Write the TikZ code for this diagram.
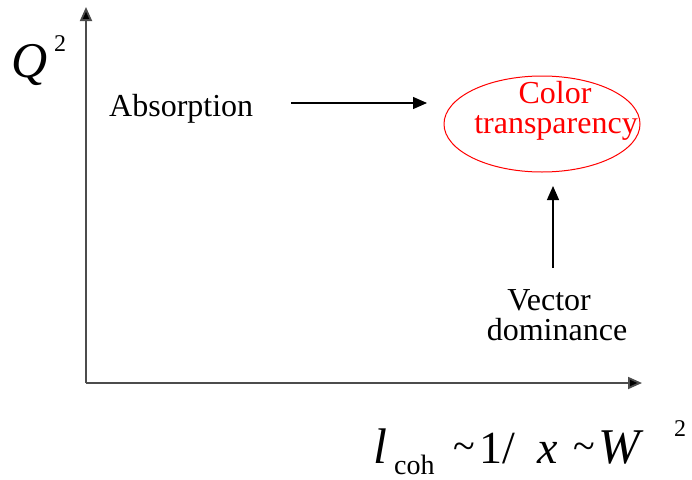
\documentclass[tikz,border=0pt]{standalone}
\usepackage{fontspec}
\setmainfont{Liberation Serif}
\usetikzlibrary{arrows.meta,shapes.geometric}
\tikzset{
  lbl/.style={anchor=base, inner sep=0pt, font=\fontsize{32}{32}\selectfont},
  formula/.style={anchor=base west, inner sep=0pt, font=\fontsize{#1}{#1}\selectfont},
  axis/.style={line width=1.8pt, draw=black!70, -{Triangle[length=14pt,width=12pt,fill=black]}},
  pointer/.style={line width=1.3pt, -{Triangle[length=14pt,width=12pt]}},
}
\begin{document}
\begin{tikzpicture}[x=1pt,y=-1pt]
        \useasboundingbox (0,0) rectangle (692,479);
        % Axes
        \coordinate (O) at (86,383);
        \coordinate (Ytip) at (86,7);
        \coordinate (Xtip) at (642,383);
        \draw[axis] (O) -- (Ytip);
        \draw[axis] (O) -- (Xtip);
        % Axis labels
        \node[formula=50, font=\fontsize{50}{50}\selectfont\itshape] (Q) at (11,77) {Q};
        \node[formula=24] (Qsq) at (54,51) {2};
        \node[formula=50, font=\fontsize{50}{50}\selectfont\itshape] (lcoh) at (373,463) {l};
        \node[formula=28] (coh) at (394,474) {coh};
        \node[formula=40] (tilA) at (453,459) {\char`\~};
        \node[formula=46] (inv) at (479,463) {1/};
        \node[formula=46, font=\fontsize{46}{46}\selectfont\itshape] (bx) at (537,463) {x};
        \node[formula=40] (tilB) at (573,459) {\char`\~};
        \node[formula=50, font=\fontsize{50}{50}\selectfont\itshape] (W) at (598,463) {W};
        \node[formula=24] (Wsq) at (674,436) {2};
        % Regions
        \node[lbl, anchor=base west] (absorb) at (109,116) {Absorption};
        \node[draw=red, line width=1pt, ellipse, minimum width=196pt, minimum height=96pt, inner sep=0pt] (ct) at (542,124) {};
        \node[lbl, red] (color) at (555,103) {Color};
        \node[lbl, red] (transp) at (556,133) {transparency};
        \node[lbl] (vector) at (549,310) {Vector};
        \node[lbl] (vdom) at (557,340) {dominance};
        % Arrows
        \coordinate (a1) at (291,103);
        \coordinate (a2) at (427,103);
        \coordinate (b1) at (553,268);
        \coordinate (b2) at (553,186);
        \draw[pointer] (a1) -- (a2);
        \draw[pointer] (b1) -- (b2);
\end{tikzpicture}
\end{document}
